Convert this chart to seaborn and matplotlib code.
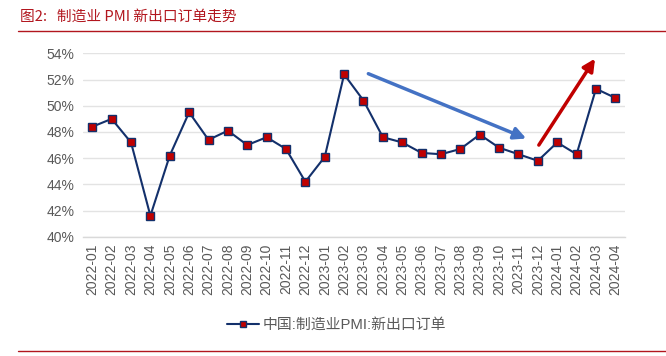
import matplotlib
matplotlib.use("Agg")
import matplotlib.pyplot as plt
import seaborn as sns
import pandas as pd
from matplotlib.lines import Line2D

months = ["2022-01", "2022-02", "2022-03", "2022-04", "2022-05", "2022-06", "2022-07",
          "2022-08", "2022-09", "2022-10", "2022-11", "2022-12", "2023-01", "2023-02",
          "2023-03", "2023-04", "2023-05", "2023-06", "2023-07", "2023-08", "2023-09",
          "2023-10", "2023-11", "2023-12", "2024-01", "2024-02", "2024-03", "2024-04"]
values = [48.4, 49.0, 47.2, 41.6, 46.2, 49.5, 47.4, 48.1, 47.0, 47.6, 46.7, 44.2, 46.1, 52.4,
          50.4, 47.6, 47.2, 46.4, 46.3, 46.7, 47.8, 46.8, 46.3, 45.8, 47.2, 46.3, 51.3, 50.6]
series_name = "中国:制造业PMI:新出口订单"
title_text = "图2:   制造业 PMI 新出口订单走势"
y_ticks = [40, 42, 44, 46, 48, 50, 52, 54]

df = pd.DataFrame({"month": months, "value": values})
df["x"] = range(len(df))

sns.set_theme(style="white")
plt.rcParams["font.family"] = ["Liberation Sans", "Noto Sans CJK SC", "DejaVu Sans"]

fig = plt.figure(figsize=(6.66, 3.56), dpi=100)
ax = fig.add_axes([0.124, 0.335, 0.8145, 0.515])

navy = "#13306B"
sns.lineplot(data=df, x="x", y="value", ax=ax, color=navy, linewidth=1.5,
             marker="s", markersize=5.5, markerfacecolor="#C00000",
             markeredgecolor=navy, markeredgewidth=1.0)

ax.set_xlim(-0.5, len(months) - 0.5)
ax.set_ylim(40, 54)
ax.set_yticks(y_ticks)
ax.set_yticklabels([f"{v}%" for v in y_ticks])
ax.set_xticks(range(len(months)))
ax.set_xticklabels(months, rotation=90)
ax.set_xlabel("")
ax.set_ylabel("")

ax.yaxis.grid(True, color="#E3E3E3", linewidth=1.0)
ax.xaxis.grid(False)
for s in ["left", "right", "top"]:
    ax.spines[s].set_visible(False)
ax.spines["bottom"].set_color("#D9D9D9")
ax.spines["bottom"].set_linewidth(1.0)
ax.tick_params(axis="y", length=0, labelsize=10, labelcolor="#595959", pad=6)
ax.tick_params(axis="x", length=0, labelsize=10, labelcolor="#595959", pad=5)
# minor tick marks between categories
ax.set_xticks([i - 0.5 for i in range(len(months) + 1)], minor=True)
ax.tick_params(axis="x", which="minor", length=4, color="#D9D9D9", direction="out")

# trend arrows
ax.annotate("", xy=(22.4, 47.5), xytext=(14.25, 52.45),
            arrowprops=dict(arrowstyle="-|>,head_length=0.6,head_width=0.3",
                            color="#4472C4", lw=2.5, shrinkA=0, shrinkB=0))
ax.annotate("", xy=(25.95, 53.6), xytext=(23.05, 47.0),
            arrowprops=dict(arrowstyle="-|>,head_length=0.6,head_width=0.3",
                            color="#C00000", lw=2.5, shrinkA=0, shrinkB=0))

handle = Line2D([], [], color=navy, linewidth=1.5, marker="s", markersize=5,
                markerfacecolor="#C00000", markeredgecolor=navy)
fig.legend([handle], [series_name], loc="center", bbox_to_anchor=(0.505, 0.087),
           frameon=False, handlelength=2.2, handletextpad=0.2,
           labelcolor="#595959", prop={"family": ["Liberation Sans", "Noto Sans CJK SC"], "size": 10.7})

fig.text(0.03, 0.952, title_text, color="#B2161E", fontsize=10.6,
         family=["Noto Sans CJK SC", "DejaVu Sans"], va="center", ha="left")
fig.add_artist(Line2D([0.027, 1.0], [0.913, 0.913], color="#B2161E", linewidth=1.0,
                      transform=fig.transFigure))
fig.add_artist(Line2D([0.027, 1.0], [0.014, 0.014], color="#B2161E", linewidth=1.0,
                      transform=fig.transFigure))

fig.savefig("out.png", dpi=100)
